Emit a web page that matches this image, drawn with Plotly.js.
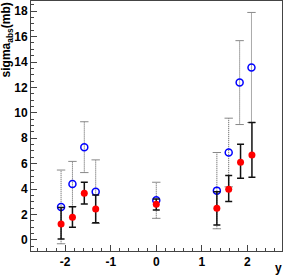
<!DOCTYPE html>
<html>
<head>
<meta charset="utf-8">
<script src="https://cdn.plot.ly/plotly-3.0.1.min.js"></script>
<style>html,body{margin:0;padding:0;background:#fff;}#chart{width:283px;height:275px;}</style>
</head>
<body>
<div id="chart"></div>
<script>
// Rapidity values
const xRed  = [-2.09, -1.84, -1.58, -1.33, 0.00, 1.33, 1.59, 1.85, 2.10];
const xBlue = [-2.09, -1.84, -1.58, -1.33, 0.00, 1.33, 1.59, 1.83, 2.09];
// Filled red series
const yRed      = [1.26, 1.78, 3.67, 2.44, 2.81, 2.49, 3.99, 6.12, 6.69];
const redPlus   = [1.30, 0.84, 0.87, 1.10, 0.42, 1.30, 1.08, 1.41, 2.55];
const redMinus  = [1.18, 0.78, 0.84, 1.08, 0.45, 1.31, 0.97, 1.26, 1.75];
// Open blue series
const yBlue     = [2.60, 4.40, 7.30, 3.80, 3.12, 3.88, 6.88, 12.38, 13.57];
const blueErr   = [2.90, 1.78, 2.00, 2.50, 1.42, 3.00, 2.70, 3.30, 4.33];
// Tick labels
const xTicks = [-2, -1, 0, 1, 2];
const yTicks = [0, 2, 4, 6, 8, 10, 12, 14, 16, 18];

// dotted error bars for blue series (built from data)
const dotX = [], dotY = [], capX = [], capY = [];
for (let i = 0; i < xBlue.length; i++) {
  dotX.push(xBlue[i], xBlue[i], null);
  dotY.push(yBlue[i] - blueErr[i], yBlue[i] + blueErr[i], null);
  capX.push(xBlue[i], xBlue[i]);
  capY.push(yBlue[i] - blueErr[i], yBlue[i] + blueErr[i]);
}

const font = {family: 'Liberation Sans, Arial, sans-serif', size: 12, color: '#000', weight: 'bold'};

const data = [
  {x: dotX, y: dotY, mode: 'lines', type: 'scatter', hoverinfo: 'skip',
   line: {color: '#555', width: 1, dash: '1px,1px'}, showlegend: false},
  {x: capX, y: capY, mode: 'markers', type: 'scatter', hoverinfo: 'skip',
   marker: {symbol: 'line-ew', size: 6, line: {color: '#888', width: 1}}, showlegend: false},
  {x: xBlue, y: yBlue, mode: 'markers', type: 'scatter',
   marker: {symbol: 'circle-open', size: 7, color: '#0000ff', line: {color: '#0000ff', width: 1.5}}, showlegend: false},
  {x: xRed, y: yRed, mode: 'markers', type: 'scatter',
   error_y: {type: 'data', symmetric: false, array: redPlus, arrayminus: redMinus, color: '#111', thickness: 1.5, width: 3.5},
   marker: {symbol: 'circle', size: 7, color: '#ff0000'}, showlegend: false}
];

const layout = {
  width: 283, height: 275,
  margin: {l: 31, r: 1, t: 1, b: 24, pad: 0},
  paper_bgcolor: '#fff', plot_bgcolor: '#fff',
  font: font,
  xaxis: {range: [-2.75, 2.76], tickvals: xTicks, ticktext: xTicks.map(String),
    ticks: 'inside', ticklen: 6, tickwidth: 1, tickcolor: '#444',
    minor: {dtick: 0.2, ticks: 'inside', ticklen: 3, tickcolor: '#444'},
    showline: true, linecolor: '#444', linewidth: 1, mirror: true,
    showgrid: false, zeroline: false, tickfont: font},
  yaxis: {range: [-0.87, 18.8], tickvals: yTicks, ticktext: yTicks.map(String),
    ticks: 'inside', ticklen: 6, tickwidth: 1, tickcolor: '#444',
    minor: {dtick: 0.5, ticks: 'inside', ticklen: 3, tickcolor: '#444'},
    showline: true, linecolor: '#444', linewidth: 1, mirror: true,
    showgrid: false, zeroline: false, tickfont: font},
  annotations: [
    {text: 'sigma<sub>abs</sub>(mb)', xref: 'paper', yref: 'paper', x: -0.096, y: 1.004,
     xanchor: 'center', yanchor: 'top', textangle: -90, showarrow: false, font: font},
    {text: 'y', xref: 'paper', yref: 'paper', x: 0.985, y: -0.068,
     xanchor: 'center', yanchor: 'middle', showarrow: false, font: font}
  ]
};

Plotly.newPlot('chart', data, layout, {staticPlot: true, displayModeBar: false});
</script>
</body>
</html>
